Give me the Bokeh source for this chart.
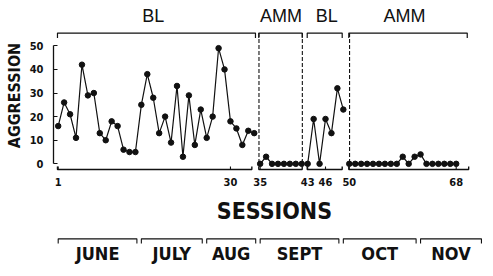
from bokeh.plotting import figure
from bokeh.layouts import column
from bokeh.models import Range1d, FixedTicker
from bokeh.core.properties import value
from bokeh.embed import file_html
from bokeh.resources import INLINE

# ---------------- data ----------------
sessions = list(range(1, 69))
aggression = [16, 26, 21, 11, 42, 29, 30, 13, 10, 18, 16, 6, 5, 5, 25, 38, 28, 13, 20, 9,
              33, 3, 29, 8, 23, 11, 20, 49, 40, 18, 15, 8, 14, 13,          # BL (1-34)
              0, 3, 0, 0, 0, 0, 0, 0,                                     # AMM (35-42)
              0, 19, 0, 19, 13, 32, 23,                                   # BL (43-49)
              0, 0, 0, 0, 0, 0, 0, 0, 0, 3, 0, 3, 4, 0, 0, 0, 0, 0, 0]    # AMM (50-68)

phase_names = ["BL", "AMM", "BL", "AMM"]
phase_first = [1, 35, 43, 50]
phase_last = [34, 42, 49, 68]

month_names = ["JUNE", "JULY", "AUG", "SEPT", "OCT", "NOV"]
month_first = [1, 15, 26, 35, 49, 62]
month_last = [14, 25, 34, 48, 61, 72]

x_tick_sessions = [1, 30, 35, 43, 46, 50, 68]
x_tick_labels = ["1", "30", "35", "43", "46", "50", "68"]
y_ticks = [0, 10, 20, 30, 40, 50]

# ---------------- layout (positions in data units) ----------------
top_lo = [0.88, 34.77, 42.92, 49.92]
top_hi = [34.21, 42.08, 48.81, 69.86]
bot_lo = [0.88, 34.77, 42.92, 49.92]
bot_hi = [33.6, 42.08, 48.81, 70.1]
phase_label_x = [17.0, 38.5, 46.2, 59.3]
boundaries = [34.8, 42.1, 50.05]

Y_TOP_BR, Y_TOP_TICK = 55.4, 53.3
Y_DASH_END = 0.55
Y_AXIS, Y_AXIS_TICK = -2.4, -1.15
Y_XLAB = -7.9
Y_PHASE_LAB = 62.8
Y_SESS = -19.8
Y_MON_BR, Y_MON_TICK, Y_MON_LAB = -31.8, -33.8, -38.0

CFONT = "DejaVu Sans Condensed"
COND = value(CFONT)
REG = value("Liberation Sans")
INK = "#111111"
XR = Range1d(0.21, 74.28)


def base(height, y0, y1):
    f = figure(width=493, height=height, output_backend="svg", toolbar_location=None,
               x_range=XR, y_range=Range1d(y0, y1),
               min_border_left=53, min_border_right=0, min_border_top=0,
               min_border_bottom=0, x_axis_location=None)
    f.outline_line_color = None
    f.xgrid.visible = False
    f.ygrid.visible = False
    f.background_fill_color = "white"
    f.border_fill_color = "white"
    return f


# ---------------- main chart ----------------
p = base(190, -11.3, 69.2)
ax = p.yaxis[0]
ax.ticker = FixedTicker(ticks=y_ticks)
ax.bounds = (0, 50)
ax.major_tick_in = 4
ax.major_tick_out = 0
ax.minor_tick_in = 0
ax.minor_tick_out = 0
ax.axis_line_width = 1.3
ax.axis_line_color = INK
ax.major_tick_line_color = INK
ax.major_tick_line_width = 1.2
ax.major_label_text_font = CFONT
ax.major_label_text_font_style = "bold"
ax.major_label_text_font_size = "11px"
ax.major_label_text_color = INK
ax.major_label_standoff = 10
ax.axis_label = "AGGRESSION"
ax.axis_label_text_font = CFONT
ax.axis_label_text_font_style = "bold"
ax.axis_label_text_font_size = "16px"
ax.axis_label_text_color = INK
ax.axis_label_standoff = 3

for a, b in zip(phase_first, phase_last):
    xs = sessions[a - 1:b]
    ys = aggression[a - 1:b]
    p.line(xs, ys, line_color=INK, line_width=1.2)
    p.scatter(xs, ys, size=5.5, fill_color=INK, line_color=INK)

p.segment(x0=boundaries, y0=[Y_TOP_BR] * 3, x1=boundaries, y1=[Y_DASH_END] * 3,
          line_color=INK, line_width=1.1, line_dash="4 2")

p.multi_line(xs=[[l, l, h, h] for l, h in zip(top_lo, top_hi)],
             ys=[[Y_TOP_TICK, Y_TOP_BR, Y_TOP_BR, Y_TOP_TICK]] * 4,
             line_color=INK, line_width=1.2)
p.text(x=phase_label_x, y=[Y_PHASE_LAB] * 4, text=phase_names,
       text_font=REG, text_font_size=value("18px"), text_color=INK,
       text_align="center", text_baseline="middle")

p.multi_line(xs=[[l, l, h, h] for l, h in zip(bot_lo, bot_hi)],
             ys=[[Y_AXIS_TICK, Y_AXIS, Y_AXIS, Y_AXIS_TICK]] * 4,
             line_color=INK, line_width=1.4)
p.segment(x0=x_tick_sessions, y0=[Y_AXIS] * len(x_tick_sessions),
          x1=x_tick_sessions, y1=[Y_AXIS_TICK] * len(x_tick_sessions),
          line_color=INK, line_width=1.1)
p.text(x=x_tick_sessions, y=[Y_XLAB] * len(x_tick_sessions), text=x_tick_labels,
       text_font=COND, text_font_style="bold", text_font_size=value("11px"),
       text_color=INK, text_align="center", text_baseline="middle")

# ---------------- session / month strip ----------------
q = base(86, -47.75, -11.3)
q.yaxis.visible = False

q.text(x=[37.4], y=[Y_SESS], text=["SESSIONS"], text_font=COND,
       text_font_style="bold", text_font_size=value("23px"), text_color=INK,
       text_align="center", text_baseline="middle")

m_lo = [f for f in month_first]
m_hi = [l + 0.25 for l in month_last]
q.multi_line(xs=[[l, l, h, h] for l, h in zip(m_lo, m_hi)],
             ys=[[Y_MON_TICK, Y_MON_BR, Y_MON_BR, Y_MON_TICK]] * len(m_lo),
             line_color=INK, line_width=1.1)
q.text(x=[(l + h) / 2 for l, h in zip(m_lo, m_hi)], y=[Y_MON_LAB] * len(m_lo),
       text=month_names, text_font=COND, text_font_style="bold",
       text_font_size=value("18px"), text_color=INK,
       text_align="center", text_baseline="middle")

layout = column(p, q, spacing=0)
open("out.html", "w").write(file_html(layout, INLINE))
